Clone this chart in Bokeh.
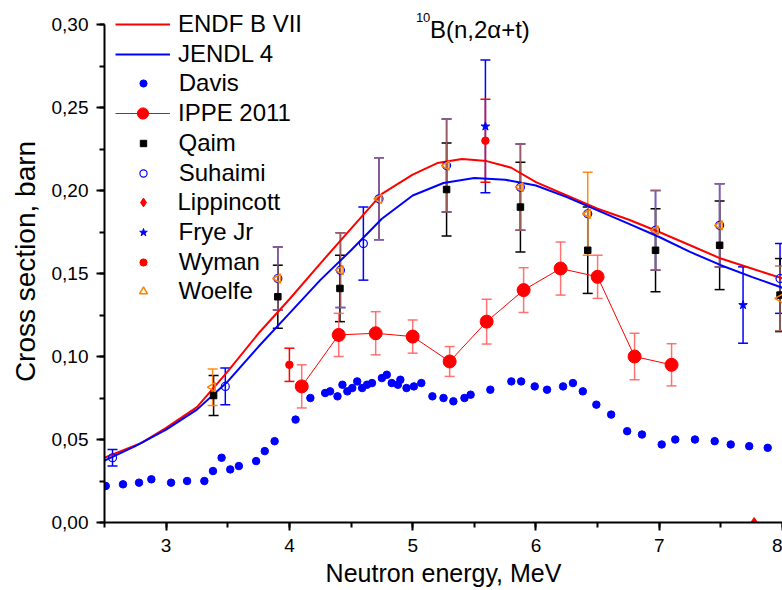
import numpy as np
from bokeh.plotting import figure
from bokeh.models import (ColumnDataSource, Whisker, TeeHead, Legend, LegendItem,
                          SingleIntervalTicker, CustomJSTickFormatter, Label, Range1d)
from bokeh.embed import file_html
from bokeh.resources import INLINE

# ---------------- data ----------------
endf_x = [2.5, 2.8, 3.0, 3.25, 3.5, 3.75, 4.0, 4.25, 4.5, 4.75, 5.0, 5.2, 5.4, 5.6,
          5.8, 6.0, 6.25, 6.5, 6.75, 7.0, 7.25, 7.5, 7.75, 8.0]
endf_y = [0.039, 0.048, 0.057, 0.0695, 0.091, 0.114, 0.1345, 0.156, 0.177, 0.198, 0.2096,
          0.2165, 0.219, 0.2177, 0.2137, 0.205, 0.197, 0.189, 0.1825, 0.175, 0.167,
          0.159, 0.153, 0.147]

jendl_x = [2.5, 2.75, 3.0, 3.25, 3.5, 3.75, 4.0, 4.25, 4.5, 4.75, 5.0, 5.25, 5.5, 5.75,
           6.0, 6.25, 6.5, 6.75, 7.0, 7.25, 7.5, 7.75, 8.0]
jendl_y = [0.0373, 0.046, 0.056, 0.068, 0.085, 0.106, 0.126, 0.146, 0.164, 0.183, 0.197,
           0.2045, 0.2075, 0.2065, 0.203, 0.196, 0.188, 0.180, 0.172, 0.163, 0.155,
           0.148, 0.1414]

davis_x = [2.51, 2.65, 2.78, 2.88, 3.04, 3.17, 3.31, 3.38, 3.45, 3.52, 3.59, 3.73, 3.80,
           3.88, 4.05, 4.17, 4.29, 4.33, 4.39, 4.43, 4.47, 4.51, 4.55, 4.59, 4.63, 4.67,
           4.75, 4.79, 4.83, 4.88, 4.90, 4.95, 5.01, 5.07, 5.16, 5.25, 5.33, 5.42, 5.47,
           5.63, 5.80, 5.88, 5.99, 6.09, 6.22, 6.30, 6.38, 6.49, 6.61, 6.74, 6.86, 7.02,
           7.13, 7.29, 7.45, 7.58, 7.73, 7.88]
davis_y = [0.022, 0.023, 0.024, 0.026, 0.024, 0.025, 0.025, 0.031, 0.039, 0.032, 0.034,
           0.037, 0.043, 0.049, 0.062, 0.075, 0.078, 0.079, 0.076, 0.083, 0.079, 0.081,
           0.085, 0.081, 0.083, 0.084, 0.087, 0.089, 0.084, 0.083, 0.086, 0.081, 0.082,
           0.084, 0.076, 0.075, 0.073, 0.075, 0.077, 0.080, 0.085, 0.085, 0.082, 0.080,
           0.082, 0.084, 0.079, 0.071, 0.065, 0.055, 0.053, 0.047, 0.050, 0.050, 0.049,
           0.047, 0.046, 0.045]

ippe_x = [4.1, 4.4, 4.7, 5.0, 5.3, 5.6, 5.9, 6.2, 6.5, 6.8, 7.1]
ippe_y = [0.082, 0.113, 0.114, 0.112, 0.097, 0.121, 0.140, 0.153, 0.148, 0.100, 0.095]
ippe_err = [0.013, 0.013, 0.013, 0.010, 0.009, 0.0135, 0.0135, 0.016, 0.013, 0.014, 0.0127]

qaim_x = [3.385, 3.906, 4.41, 5.275, 5.874, 6.42, 6.97, 7.49, 7.98]
qaim_y = [0.0765, 0.136, 0.141, 0.2006, 0.190, 0.164, 0.164, 0.167, 0.137]
qaim_err = [0.012, 0.019, 0.020, 0.028, 0.027, 0.026, 0.025, 0.0267, 0.022]

suhaimi_x = [2.565, 3.48, 3.906, 4.414, 4.60, 4.727, 5.275, 5.874, 6.42, 6.97, 7.49, 7.98]
suhaimi_y = [0.039, 0.082, 0.147, 0.152, 0.168, 0.195, 0.215, 0.202, 0.186, 0.176, 0.179, 0.147]
suhaimi_err = [0.005, 0.011, 0.019, 0.0225, 0.022, 0.0247, 0.028, 0.026, 0.0, 0.024, 0.025, 0.021]

lipp_x = [7.77]
lipp_y = [0.0]

frye_x = [5.59, 7.68]
frye_y = [0.2386, 0.131]
frye_err = [0.040, 0.023]

wyman_x = [4.0, 5.59]
wyman_y = [0.095, 0.230]
wyman_err = [0.010, 0.025]

woelfe_x = [3.377, 3.906, 4.414, 4.727, 5.275, 5.874, 6.42, 6.97, 7.49, 7.98]
woelfe_y = [0.0815, 0.147, 0.152, 0.195, 0.215, 0.202, 0.186, 0.176, 0.179, 0.135]
woelfe_err = [0.011, 0.019, 0.0225, 0.0247, 0.028, 0.026, 0.025, 0.024, 0.025, 0.0195]

x_label = "Neutron energy, MeV"
y_label = "Cross section, barn"
FONT = "Liberation Sans"

Y_MAX = 0.30
PX_PER_UNIT = 1660.0          # vertical scale of the reference
TOP_PAD = 24                  # pixels above the 0,30 tick
BOTTOM_PAD = 68
H = 590
FRAME_H = H - BOTTOM_PAD

# ---------------- figure ----------------
p = figure(width=782, height=H, output_backend="svg", toolbar_location=None,
           x_range=Range1d(2.5, 8.0),
           y_range=Range1d(0.0, Y_MAX + TOP_PAD / PX_PER_UNIT),
           min_border_left=104, min_border_right=0, min_border_top=0,
           min_border_bottom=BOTTOM_PAD)
p.outline_line_color = None
p.grid.visible = False
p.background_fill_color = "white"
p.border_fill_color = "white"


def err_source(x, y, e, colors=None):
    xs, lo, hi, cs = [], [], [], []
    for i, (xi, yi, ei) in enumerate(zip(x, y, e)):
        if ei > 0:
            xs.append(xi)
            lo.append(yi - ei)
            hi.append(yi + ei)
            cs.append(colors[i] if colors else None)
    d = dict(base=xs, lower=lo, upper=hi)
    if colors:
        d["color"] = cs
    return ColumnDataSource(d)


def add_whisker(x, y, e, color, alpha=1.0, width=1.5, size=10, colors=None):
    src = err_source(x, y, e, colors)
    c = "color" if colors else color
    w = Whisker(source=src, base="base", lower="lower", upper="upper",
                dimension="height", line_color=c, line_alpha=alpha, line_width=width,
                upper_head=TeeHead(size=size, line_color=c, line_alpha=alpha, line_width=width),
                lower_head=TeeHead(size=size, line_color=c, line_alpha=alpha, line_width=width))
    p.add_layout(w)


# curves
r_endf = p.line(endf_x, endf_y, line_color="#ff0000", line_width=2)
r_jendl = p.line(jendl_x, jendl_y, line_color="#0000ff", line_width=2)

# error bars (Woelfe bars that lie over Suhaimi bars look brownish)
suh_with_bar = {round(xx, 3) for xx, ee in zip(suhaimi_x, suhaimi_err) if ee > 0}
woelfe_bar_colors = ["#a8675c" if round(xx, 3) in suh_with_bar else "#ff8000"
                     for xx in woelfe_x]
add_whisker(suhaimi_x, suhaimi_y, suhaimi_err, "#0000ff")
add_whisker(qaim_x, qaim_y, qaim_err, "#000000")
add_whisker(woelfe_x, woelfe_y, woelfe_err, None, alpha=0.9, colors=woelfe_bar_colors)
add_whisker(frye_x, frye_y, frye_err, "#0000ff")
add_whisker(wyman_x, wyman_y, wyman_err, "#ff0000")
add_whisker(ippe_x, ippe_y, ippe_err, "#ff5a5a", alpha=0.85)

# markers
r_davis = p.scatter(davis_x, davis_y, marker="circle", size=7.5, fill_color="#0000ff",
                    line_color="#0000ff")
r_ippe_line = p.line(ippe_x, ippe_y, line_color="#ff0000", line_width=1)
r_ippe = p.scatter(ippe_x, ippe_y, marker="circle", size=13, fill_color="#ff0000",
                   line_color="#ff0000")
r_qaim = p.scatter(qaim_x, qaim_y, marker="square", size=6.5, fill_color="#000000",
                   line_color="#000000")
r_suh = p.scatter(suhaimi_x, suhaimi_y, marker="circle", size=8, fill_color=None,
                  line_color="#0000ff", line_width=1.2)
r_lipp = p.scatter(lipp_x, lipp_y, marker="diamond", size=10, fill_color="#ff0000",
                   line_color="#ff0000")
r_frye = p.scatter(frye_x, frye_y, marker="star", size=9, fill_color="#0000ff",
                   line_color="#0000ff")
r_wyman = p.scatter(wyman_x, wyman_y, marker="circle", size=7.5, fill_color="#ff0000",
                    line_color="#ff0000")
r_woelfe = p.scatter(woelfe_x, woelfe_y, marker="triangle", size=9, angle=np.pi / 2,
                     fill_color=None, line_color="#ff8000", line_width=1.5)

# axes
for ax in (p.xaxis[0], p.yaxis[0]):
    ax.axis_line_width = 2
    ax.axis_line_color = "black"
    ax.major_tick_line_width = 2
    ax.minor_tick_line_width = 2
    ax.major_tick_line_color = "black"
    ax.minor_tick_line_color = "black"
    ax.major_tick_out = 8
    ax.major_tick_in = 0
    ax.minor_tick_out = 5
    ax.minor_tick_in = 0
    ax.major_label_text_font = FONT
    ax.major_label_text_font_size = "19px"
    ax.major_label_text_color = "black"
    ax.axis_label_text_font = FONT
    ax.axis_label_text_font_style = "normal"
    ax.axis_label_text_color = "black"
    ax.major_label_standoff = 8

p.xaxis.axis_label_text_font_size = "25px"
p.yaxis.axis_label_text_font_size = "28px"
p.xaxis.ticker = SingleIntervalTicker(interval=1, num_minor_ticks=2)
p.yaxis.ticker = SingleIntervalTicker(interval=0.05, num_minor_ticks=2)
p.yaxis.bounds = (0.0, Y_MAX + 0.0001)
p.xaxis.formatter = CustomJSTickFormatter(code="return tick.toFixed(0);")
p.yaxis.formatter = CustomJSTickFormatter(code="return tick.toFixed(2).replace('.', ',');")
p.xaxis.axis_label = x_label
p.yaxis.axis_label = y_label
p.xaxis.axis_label_standoff = 4
p.yaxis.axis_label_standoff = 8

# legend: one small legend per row so each row keeps its own marker size
legend_rows = [
    ("ENDF B VII", [r_endf], 55),
    ("JENDL 4", [r_jendl], 55),
    ("Davis", [r_davis], 17.5),
    ("IPPE 2011", [r_ippe_line, r_ippe], 55),
    ("Qaim", [r_qaim], 16),
    ("Suhaimi", [r_suh], 17.5),
    ("Lippincott", [r_lipp], 22),
    ("Frye Jr", [r_frye], 20),
    ("Wyman", [r_wyman], 17.5),
    ("Woelfe", [r_woelfe], 20),
]
ROW_H = 28
ROW_PITCH = 29.7
FIRST_ROW_CENTER = TOP_PAD          # canvas px from top of the frame
GLYPH_CENTER_X = 38.5               # px from the frame's left edge
TEXT_START_X = 74                   # px from the frame's left edge
for i, (lab, rends, gw) in enumerate(legend_rows):
    center_from_bottom = FRAME_H - (FIRST_ROW_CENTER + ROW_PITCH * i)
    lg = Legend(items=[LegendItem(label=lab, renderers=rends)],
                location=(GLYPH_CENTER_X - gw / 2, center_from_bottom - ROW_H / 2),
                padding=0, margin=0, spacing=0,
                glyph_width=int(round(gw)), glyph_height=ROW_H, label_height=ROW_H,
                label_standoff=int(round(TEXT_START_X - (GLYPH_CENTER_X + gw / 2))),
                label_text_font=FONT, label_text_font_size="24px",
                label_text_color="black", border_line_color=None,
                background_fill_alpha=0.0)
    p.add_layout(lg)

# title with superscript mass number
p.add_layout(Label(x=5.14, y=0.297, text="B(n,2\u03b1+t)", text_font=FONT,
                   text_font_size="24px", text_color="black", text_baseline="alphabetic"))
p.add_layout(Label(x=5.026, y=0.3042, text="10", text_font=FONT,
                   text_font_size="13px", text_color="black", text_baseline="alphabetic"))

open("out.html", "w").write(file_html(p, INLINE))
